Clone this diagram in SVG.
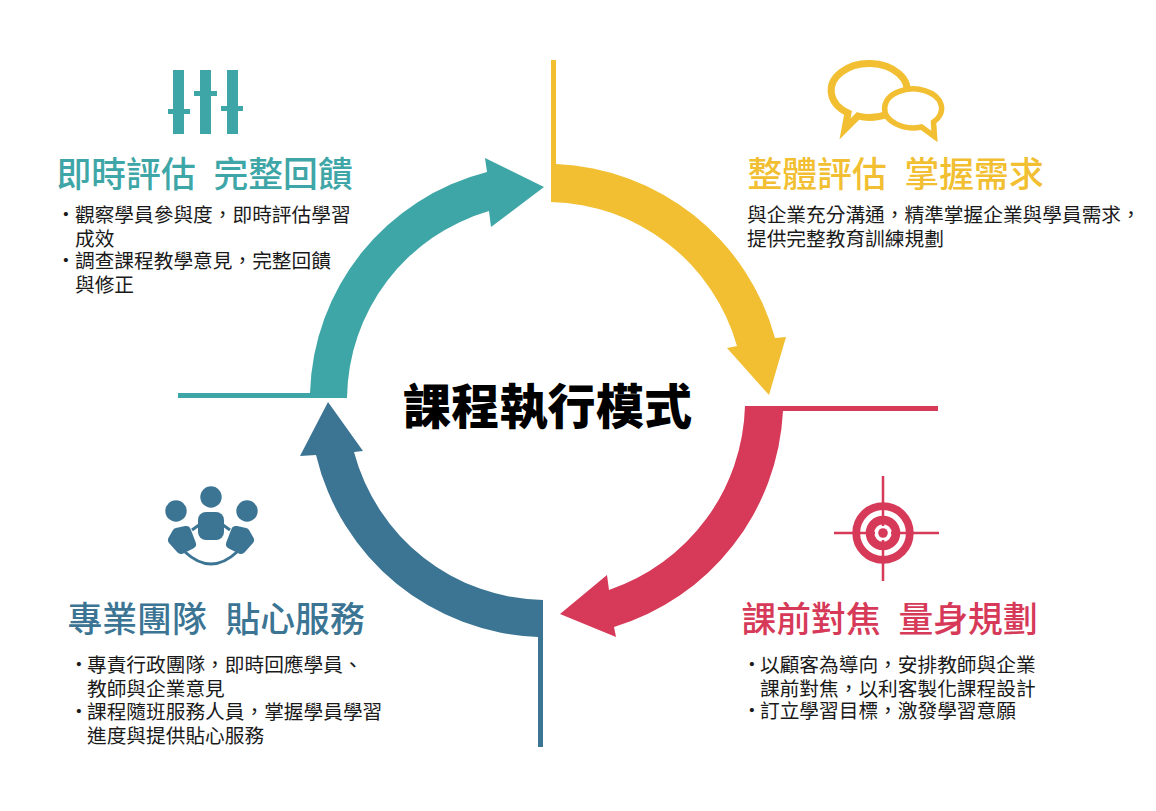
<svg xmlns="http://www.w3.org/2000/svg" width="1156" height="811" viewBox="0 0 1156 811">
<style>
text{font-family:"Noto Sans CJK TC","Noto Sans CJK SC",sans-serif}
.t{font-size:34.8px;font-weight:500}
.b{font-size:19.7px;fill:#1a1a1a;font-weight:400}
.teal{fill:#3FA6A7}.yel{fill:#F1BF31}.red{fill:#D63A58}.blu{fill:#3C7594}
</style>
<rect width="1156" height="811" fill="#fff"/>
<g id="connectors">
<path class="teal" d="M178 393H310A235 235 0 0 1 487 172L485 158L544 187L491 227L489 211A197 197 0 0 0 347 398H178Z"/>
<path class="yel" d="M551 60H556V164A237 237 0 0 1 775 338L786 337L769 395L727 348L737 346A198 198 0 0 0 551 202Z"/>
<path class="red" d="M938 406V411H783A238 238 0 0 1 614 627L616 637L560 614L607 575L609 590A200 200 0 0 0 745 406Z"/>
<path class="blu" d="M543 747H538V637A237 237 0 0 1 316 455L300 456L328 402L363 451L354 452A199 199 0 0 0 543 600Z"/>
</g>
<g id="center"><text x="403" y="424" font-size="48" font-weight="900" fill="#000" textLength="289">課程執行模式</text></g>
<g id="node-teal">
<g class="teal">
<rect x="173" y="70" width="11" height="64"/><rect x="168" y="109" width="22" height="5"/>
<rect x="200" y="70" width="11" height="64"/><rect x="194" y="91" width="23" height="5"/>
<rect x="227" y="70" width="11" height="64"/><rect x="221" y="106" width="22" height="5"/>
</g>
<text class="t teal" y="187"><tspan x="56.5">即時評估</tspan><tspan x="213.5">完整回饋</tspan></text>
<text class="b" y="222"><tspan x="56">・</tspan><tspan x="75">觀察學員參與度，即時評估學習</tspan></text>
<text class="b" x="75" y="246">成效</text>
<text class="b" y="268"><tspan x="56">・</tspan><tspan x="75">調查課程教學意見，完整回饋</tspan></text>
<text class="b" x="75" y="292">與修正</text>
</g>
<g id="node-yellow">
<path fill="none" stroke="#F1BF31" stroke-width="7" stroke-miterlimit="8" d="M888 114Q872 120 858 116L845 129L848 113A38 27 0 1 1 888 114Z"/>
<path fill="#fff" stroke="#F1BF31" stroke-width="5.5" stroke-miterlimit="8" d="M921.5 127L934.5 136.5L933.5 122A28.5 19.5 0 1 0 921.5 127Z"/>
<text class="t yel" y="187"><tspan x="747.5">整體評估</tspan><tspan x="904.5">掌握需求</tspan></text>
<text class="b" x="747" y="222">與企業充分溝通，精準掌握企業與學員需求，</text>
<text class="b" x="747" y="246">提供完整教育訓練規劃</text>
</g>
<g id="node-red">
<circle cx="883" cy="533" r="26.8" fill="none" stroke="#D63A58" stroke-width="7.8"/>
<circle cx="883" cy="533" r="13" fill="none" stroke="#D63A58" stroke-width="8.6"/>
<circle cx="883" cy="533" r="4.8" class="red"/>
<path stroke="#D63A58" stroke-width="2.5" fill="none" d="M883 476V526M883 540V581M834 533H875M891 533H939"/>
<text class="t red" y="632"><tspan x="741.5">課前對焦</tspan><tspan x="898.5">量身規劃</tspan></text>
<text class="b" y="672"><tspan x="742">・</tspan><tspan x="760">以顧客為導向，安排教師與企業</tspan></text>
<text class="b" x="760" y="696">課前對焦，以利客製化課程設計</text>
<text class="b" y="718"><tspan x="742">・</tspan><tspan x="760">訂立學習目標，激發學習意願</tspan></text>
</g>
<g id="node-blue">
<g class="blu">
<circle cx="211" cy="497" r="10.7"/><circle cx="176" cy="511" r="10.7"/><circle cx="247" cy="511" r="10.7"/>
<rect x="198" y="512" width="26" height="28" rx="8"/>
<path stroke="#3C7594" stroke-width="10" stroke-linejoin="round" d="M177 533L186 531L191 544L181 549L173 540Z"/>
<path stroke="#3C7594" stroke-width="10" stroke-linejoin="round" d="M245 533L236 531L231 544L241 549L249 540Z"/>
</g>
<path fill="none" stroke="#3C7594" stroke-width="3" d="M185 552Q211 576 237 552M192 530L199 525M230 530L223 525"/>
<text class="t blu" y="632"><tspan x="67.5">專業團隊</tspan><tspan x="225.5">貼心服務</tspan></text>
<text class="b" y="672"><tspan x="69">・</tspan><tspan x="87">專責行政團隊，即時回應學員、</tspan></text>
<text class="b" x="87" y="696">教師與企業意見</text>
<text class="b" y="719"><tspan x="69">・</tspan><tspan x="87">課程隨班服務人員，掌握學員學習</tspan></text>
<text class="b" x="87" y="743">進度與提供貼心服務</text>
</g>
</svg>
